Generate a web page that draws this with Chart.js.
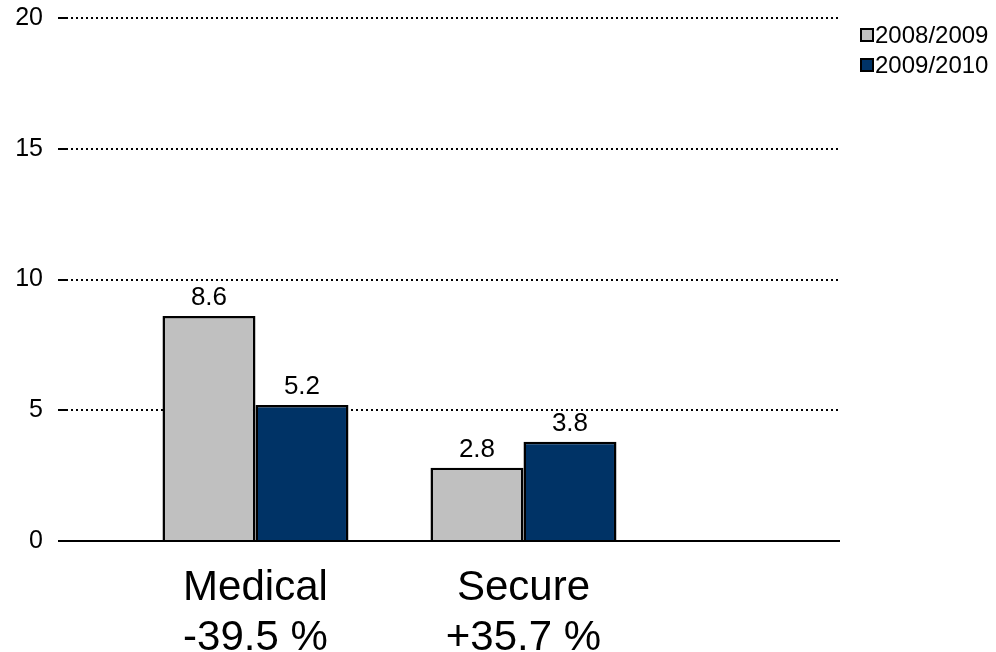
<!DOCTYPE html>
<html>
<head>
<meta charset="utf-8">
<title>Medical / Secure</title>
<script src="https://cdn.jsdelivr.net/npm/chart.js@4"></script>
<style>
  body { margin: 0; background: #fff; }
  #wrap { width: 996px; height: 652px; position: relative; }
</style>
</head>
<body>
<div id="wrap"><canvas id="myChart"></canvas></div>
<script>
'use strict';

// *********** DATA ***********
let categories = ['Medical', 'Secure'];
let changeLabels = ['-39.5 %', '+35.7 %'];
let seriesNames = ['2008/2009', '2009/2010'];
let values0809 = [8.6, 2.8];
let values0910 = [5.2, 3.8];
let yTicks = [0, 5, 10, 15, 20];

let seriesColors = ['#c0c0c0', '#003366'];

Chart.defaults.font.family = '"Liberation Sans", Arial, sans-serif';
Chart.defaults.color = '#000';

let ctx = document.getElementById('myChart').getContext('2d');

function toPoints(arr) {
  return arr.map((v, i) => ({ x: i, y: v }));
}

// ********* PLUGINS *********
// values above each bar
let valueLabels = {
  id: 'valueLabels',
  afterDatasetsDraw(chart) {
    let c = chart.ctx;
    c.save();
    c.font = '26px "Liberation Sans", Arial, sans-serif';
    c.fillStyle = '#000';
    c.textAlign = 'center';
    c.textBaseline = 'alphabetic';
    chart.data.datasets.forEach((ds, di) => {
      chart.getDatasetMeta(di).data.forEach((bar, i) => {
        c.fillText(ds.data[i].y.toFixed(1), bar.x, bar.y - 11);
      });
    });
    c.restore();
  }
};

// legend in top right corner
let cornerLegend = {
  id: 'cornerLegend',
  afterDraw(chart) {
    let c = chart.ctx;
    c.save();
    c.font = '24px "Liberation Sans", Arial, sans-serif';
    c.textBaseline = 'middle';
    c.textAlign = 'left';
    chart.data.datasets.forEach((ds, i) => {
      let y = 35 + i * 30;
      c.fillStyle = ds.backgroundColor;
      c.fillRect(861, y - 6, 12, 12);
      c.lineWidth = 2;
      c.strokeStyle = '#000';
      c.strokeRect(861, y - 6, 12, 12);
      c.fillStyle = '#000';
      c.fillText(ds.label, 875, y + 1);
    });
    c.restore();
  }
};

// ********* CHART *********
let myChart = new Chart(ctx, {
  type: 'bar',
  data: {
    datasets: [{
      label: seriesNames[0],
      data: toPoints(values0809),
      backgroundColor: seriesColors[0],
      borderColor: '#000',
      borderWidth: 2.5
    },
    {
      label: seriesNames[1],
      data: toPoints(values0910),
      backgroundColor: seriesColors[1],
      borderColor: '#000',
      borderWidth: 2.5
    }]
  },
  options: {
    responsive: true,
    maintainAspectRatio: false,
    animation: false,
    categoryPercentage: 0.694,
    barPercentage: 1,
    layout: {
      padding: { top: 18, right: 156, left: 0, bottom: 0 }
    },
    plugins: {
      legend: { display: false },
      tooltip: { enabled: false }
    },
    scales: {
      x: {
        type: 'linear',
        offset: false,
        min: -0.707,
        max: 2.181,
        grid: { display: false, drawTicks: false, offset: false },
        border: { display: false },
        afterBuildTicks(scale) {
          scale.ticks = categories.map((c, i) => ({ value: i }));
        },
        afterFit(scale) {
          scale.height = 111;
          scale.paddingLeft = 0;
          scale.paddingRight = 0;
        },
        ticks: {
          autoSkip: false,
          maxRotation: 0,
          padding: 22,
          font: { size: 42, lineHeight: 1.19 },
          callback: (value) => [categories[value], changeLabels[value]]
        }
      },
      y: {
        min: 0,
        max: 20,
        afterBuildTicks(scale) {
          scale.ticks = yTicks.map(v => ({ value: v }));
        },
        afterFit(scale) {
          scale.width = 66;
          scale.paddingTop = 0;
          scale.paddingBottom = 0;
        },
        grid: {
          color: '#000',
          lineWidth: 2,
          tickLength: 8,
          tickBorderDash: []
        },
        border: {
          display: false,
          dash: (c) => (c.tick && c.tick.value === 0 ? [] : [2, 3])
        },
        ticks: {
          padding: 15,
          font: { size: 25 }
        }
      }
    }
  },
  plugins: [valueLabels, cornerLegend]
});
</script>
</body>
</html>
